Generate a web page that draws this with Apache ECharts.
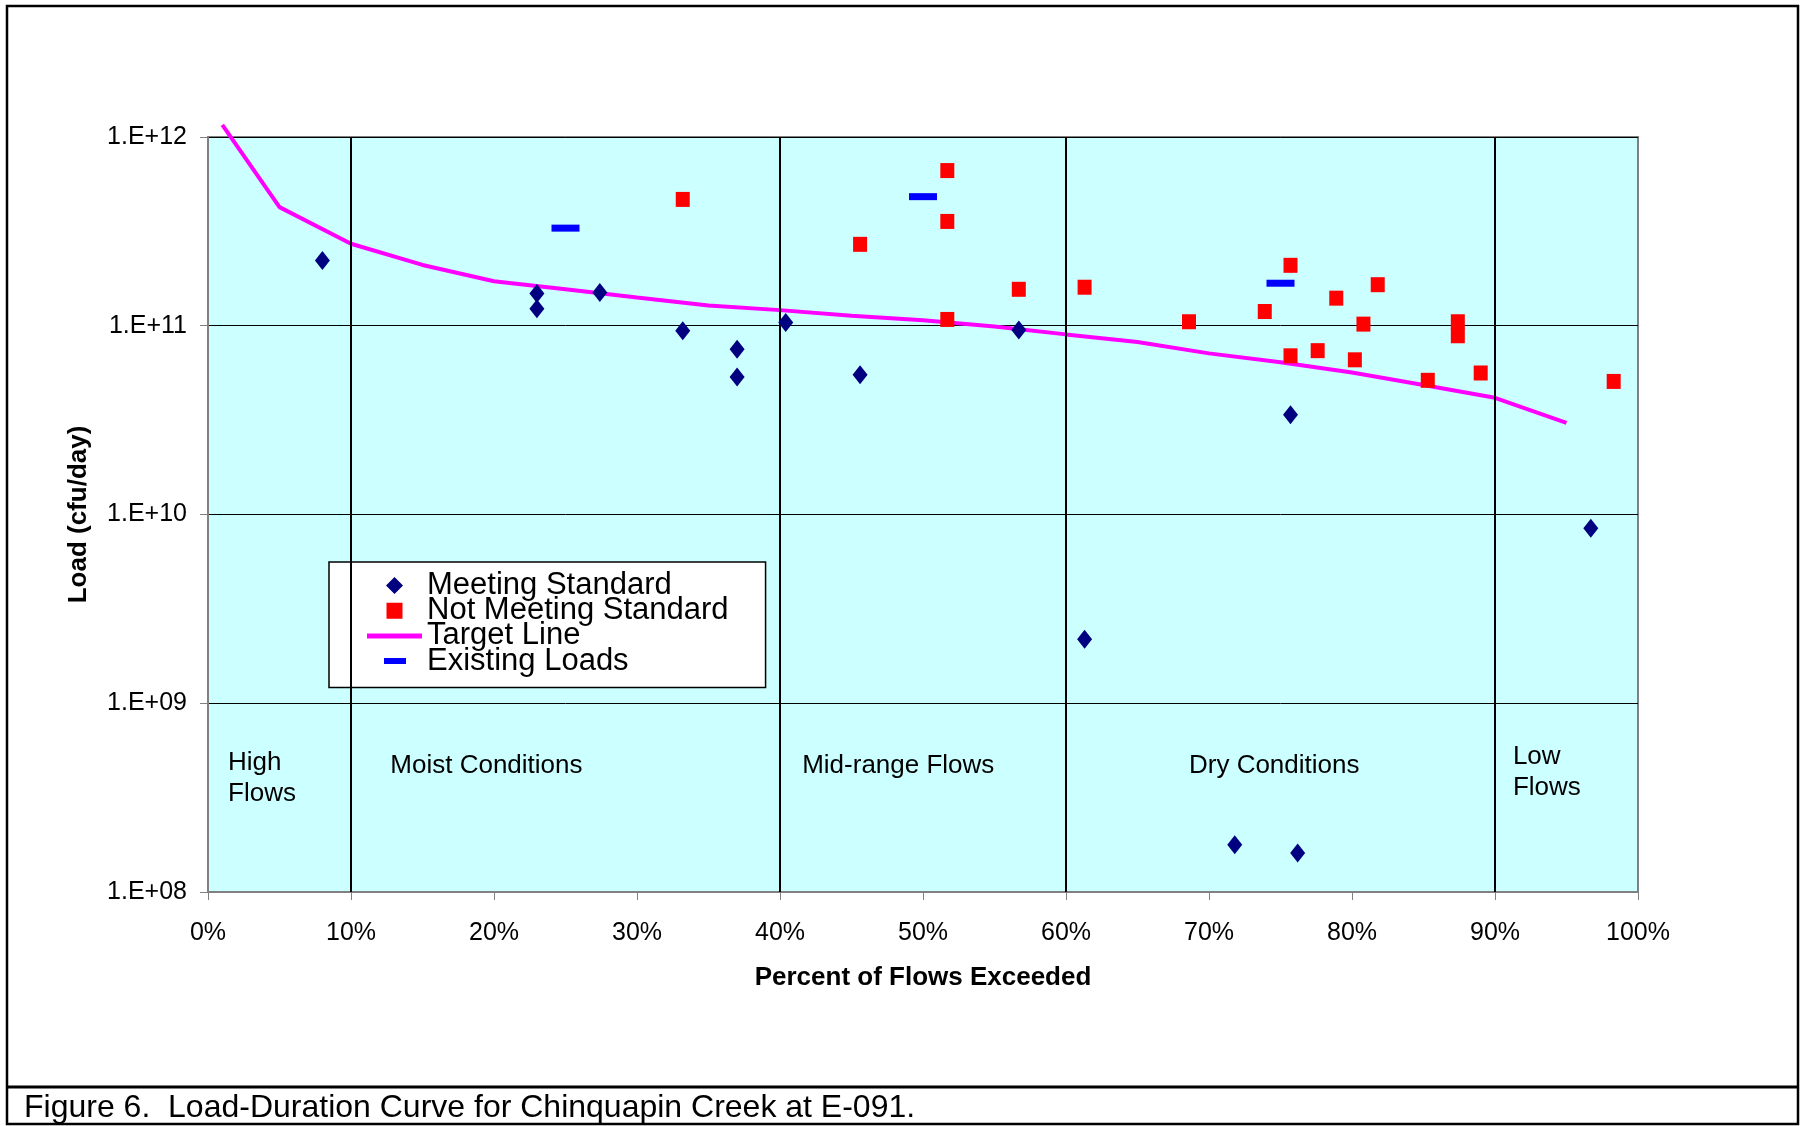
<!DOCTYPE html>
<html>
<head>
<meta charset="utf-8">
<script src="https://cdn.jsdelivr.net/npm/echarts@6/dist/echarts.min.js"></script>
<style>
html,body{margin:0;padding:0;background:#fff;}
#chart{width:1803px;height:1126px;}
</style>
</head>
<body>
<div id="chart"></div>
<script>
// ---------------- data ----------------
const meetingX = [8.0, 23.0, 23.0, 27.4, 33.2, 37.0, 37.0, 40.4, 45.6, 56.7, 61.3, 71.8, 75.7, 76.2, 96.7];
const meetingY = [2.22e11, 1.48e11, 1.23e11, 1.50e11, 9.4e10, 7.5e10, 5.35e10, 1.04e11, 5.5e10, 9.5e10, 2.18e9, 1.78e8, 3.38e10, 1.61e8, 8.45e9];

const notMeetingX = [33.2, 45.6, 51.7, 51.7, 51.7, 56.7, 61.3, 68.6, 73.9, 75.7, 75.7, 77.6, 78.9, 80.2, 80.8, 81.8, 85.3, 87.4, 87.4, 89.0, 98.3];
const notMeetingY = [4.67e11, 2.70e11, 6.64e11, 3.57e11, 1.08e11, 1.56e11, 1.60e11, 1.05e11, 1.19e11, 2.09e11, 6.93e10, 7.38e10, 1.40e11, 6.6e10, 1.02e11, 1.65e11, 5.14e10, 1.05e11, 8.85e10, 5.62e10, 5.07e10];

const targetX = [1, 5, 10, 15, 20, 25, 30, 35, 40, 45, 50, 55, 60, 65, 70, 75, 80, 85, 90, 95];
const targetY = [1.16e12, 4.25e11, 2.72e11, 2.10e11, 1.72e11, 1.56e11, 1.41e11, 1.28e11, 1.21e11, 1.13e11, 1.07e11, 9.9e10, 9.0e10, 8.2e10, 7.14e10, 6.41e10, 5.65e10, 4.85e10, 4.15e10, 3.06e10];

const existingX = [25, 50, 75];
const existingY = [3.29e11, 4.83e11, 1.68e11];

const zoneBoundaries = [10, 40, 60, 90];
const zoneNames = ['High\nFlows', 'Moist Conditions', 'Mid-range Flows', 'Dry Conditions', 'Low\nFlows'];
const zoneLabelX = [1.4, 12.75, 41.55, 68.6, 91.25];
const zoneLabelY = [4.01e8, 4.67e8, 4.67e8, 4.67e8, 4.32e8];

const legendNames = ['Meeting Standard', 'Not Meeting Standard', 'Target Line', 'Existing Loads'];
const captionText = 'Figure 6.  Load-Duration Curve for Chinquapin Creek at E-091.';
const xAxisTitle = 'Percent of Flows Exceeded';
const yAxisTitle = 'Load (cfu/day)';

// ---------------- chart ----------------
const FONT = '"Liberation Sans", Arial, Helvetica, sans-serif';
const pad = 'M0,0L0.1,0M55,18L54.9,18';
const icons = [
  'path://' + pad + 'M27.5,0.5L36,9L27.5,17.5L19,9Z',
  'path://' + pad + 'M19.5,1L35.5,1L35.5,17L19.5,17Z',
  'path://' + pad + 'M0,6.5L55,6.5L55,11.5L0,11.5Z',
  'path://' + pad + 'M17,6L39,6L39,12L17,12Z'
];

const chart = echarts.init(document.getElementById('chart'), null, {renderer: 'canvas'});

const option = {
  animation: false,
  backgroundColor: '#ffffff',
  textStyle: {fontFamily: FONT, color: '#000'},
  grid: {
    left: 208, top: 137, width: 1430, height: 755,
    show: true, backgroundColor: '#CCFFFF', borderColor: '#808080', borderWidth: 2,
    containLabel: false, outerBoundsMode: 'none'
  },
  legend: {
    orient: 'vertical', left: 329, top: 562,
    data: legendNames.map((n, i) => ({name: n, icon: icons[i]})),
    itemWidth: 55, itemHeight: 18, itemGap: -5.8,
    padding: [8, 37, 11, 38],
    backgroundColor: '#ffffff', borderColor: '#000', borderWidth: 1.5, borderRadius: 0,
    selectedMode: false,
    itemStyle: {borderWidth: 0, opacity: 1},
    textStyle: {fontSize: 31, color: '#000', fontFamily: FONT}
  },
  xAxis: {
    type: 'value', min: 0, max: 100, interval: 10,
    axisLine: {show: true, onZero: false, lineStyle: {color: '#808080', width: 2}},
    axisTick: {show: true, length: 8, lineStyle: {color: '#808080', width: 1}},
    axisLabel: {formatter: '{value}%', fontSize: 25, color: '#000', margin: 29, fontFamily: FONT},
    splitLine: {show: false},
    name: xAxisTitle, nameLocation: 'middle', nameGap: 73,
    nameTextStyle: {fontSize: 26, fontWeight: 'bold', color: '#000', fontFamily: FONT}
  },
  yAxis: {
    type: 'log', logBase: 10, min: 1e8, max: 1e12,
    axisLine: {show: true, lineStyle: {color: '#808080', width: 2}},
    axisTick: {show: true, length: 8, lineStyle: {color: '#808080', width: 1}},
    minorTick: {show: false},
    axisLabel: {
      fontSize: 25, color: '#000', margin: 21, fontFamily: FONT,
      formatter: v => '1.E+' + String(Math.round(Math.log10(v))).padStart(2, '0')
    },
    splitLine: {show: true, lineStyle: {color: '#000', width: 1}},
    name: yAxisTitle, nameLocation: 'middle', nameGap: 116, nameRotate: 90,
    nameTextStyle: {fontSize: 26, fontWeight: 'bold', color: '#000', fontFamily: FONT}
  },
  series: [
    {
      name: 'Meeting Standard', type: 'scatter', symbol: 'diamond', symbolSize: [15, 19],
      itemStyle: {color: '#000080', opacity: 1}, z: 5,
      data: meetingX.map((x, i) => [x, meetingY[i]])
    },
    {
      name: 'Not Meeting Standard', type: 'scatter', symbol: 'rect', symbolSize: [14, 15],
      itemStyle: {color: '#FF0000', opacity: 1}, z: 5,
      data: notMeetingX.map((x, i) => [x, notMeetingY[i]])
    },
    {
      name: 'Target Line', type: 'line', symbol: 'none', showSymbol: false, clip: false,
      lineStyle: {color: '#FF00FF', width: 4}, itemStyle: {color: '#FF00FF', opacity: 1}, z: 4,
      data: targetX.map((x, i) => [x, targetY[i]]),
      markLine: {
        silent: true, symbol: ['none', 'none'], label: {show: false},
        lineStyle: {color: '#000', width: 2, type: 'solid', opacity: 1},
        data: zoneBoundaries.map(v => ({xAxis: v}))
      }
    },
    {
      name: 'Existing Loads', type: 'scatter', symbol: 'rect', symbolSize: [28, 7],
      itemStyle: {color: '#0000FF', opacity: 1}, z: 5,
      data: existingX.map((x, i) => [x, existingY[i]])
    },
    {
      name: 'zone labels', type: 'scatter', symbolSize: 0, silent: true, z: 3,
      itemStyle: {color: 'transparent', opacity: 1},
      label: {
        show: true, position: 'right', distance: 0, align: 'left', verticalAlign: 'middle', opacity: 1,
        formatter: p => p.name, fontSize: 26, lineHeight: 31, color: '#000', fontFamily: FONT
      },
      data: zoneNames.map((n, i) => ({name: n, value: [zoneLabelX[i], zoneLabelY[i]]}))
    }
  ],
  graphic: [
    {type: 'rect', silent: true, z: 100, shape: {x: 7, y: 6, width: 1791, height: 1118},
     style: {fill: 'transparent', stroke: '#000', lineWidth: 2.5}},
    {type: 'line', silent: true, z: 100, shape: {x1: 7, y1: 1087, x2: 1798, y2: 1087},
     style: {stroke: '#000', lineWidth: 3}},
    {type: 'text', silent: true, z: 100, x: 24, y: 1108,
     style: {text: captionText, fontSize: 32, fontFamily: FONT, fill: '#000', align: 'left', verticalAlign: 'middle'}}
  ]
};
chart.setOption(option);
</script>
</body>
</html>
